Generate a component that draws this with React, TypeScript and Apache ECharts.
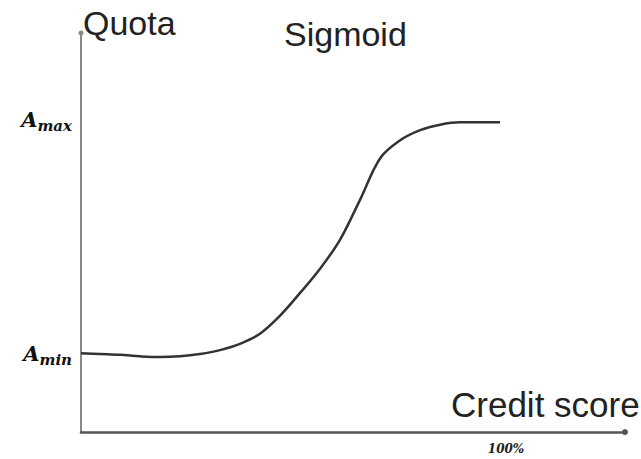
import React, { useEffect, useRef } from "react";
import * as echarts from "echarts";

// Credit score (percent of full scale) and quota values (Amin = 1, Amax = 4)
const creditScore = [0, 4.5, 9.2, 13.9, 18.6, 23.3, 28.0, 32.7, 37.4, 42.1, 46.8, 51.5, 56.2, 60.9, 65.6, 70.4, 75.1, 79.8, 84.5, 89.2, 93.9, 98.6];
const quota = [1.01, 1.0, 0.99, 0.97, 0.96, 0.97, 1.0, 1.05, 1.13, 1.26, 1.49, 1.78, 2.09, 2.46, 2.97, 3.51, 3.74, 3.87, 3.94, 3.97, 3.97, 3.97];
const yTickValues = [1, 4];
const yTickNames = ["min", "max"];
const xTickValues = [100];
const xTickLabels = ["100%"];
const titleLeft = "Quota";
const titleMain = "Sigmoid";
const xName = "Credit score";

export default function App() {
  const ref = useRef<HTMLDivElement>(null);
  useEffect(() => {
    if (!ref.current) return;
    const chart = echarts.init(ref.current, null, { renderer: "svg" });
    const data = creditScore.map((x, i) => [x, quota[i]]);
    chart.setOption({
      animation: false,
      backgroundColor: "#ffffff",
      grid: { left: 81, right: 16, top: 33, bottom: 27 },
      xAxis: {
        type: "value",
        min: 0,
        max: 128,
        interval: 100,
        splitLine: { show: false },
        axisTick: { show: false },
        axisLine: {
          show: true,
          symbol: ["none", "circle"],
          symbolSize: [6, 6],
          lineStyle: { color: "#555", width: 2.5 },
        },
        axisLabel: {
          showMaxLabel: false,
          margin: 11,
          color: "#222",
          fontFamily: "DejaVu Serif",
          fontStyle: "italic",
          fontWeight: "bold",
          fontSize: 12,
          formatter: (v: number) => {
            const i = xTickValues.indexOf(v);
            return i >= 0 ? xTickLabels[i] : "";
          },
        },
      },
      yAxis: {
        type: "value",
        min: 0,
        max: 5.115,
        interval: 1,
        splitLine: { show: false },
        axisTick: { show: false },
        axisLine: {
          show: true,
          symbol: ["none", "circle"],
          symbolSize: [5, 5],
          lineStyle: { color: "#888", width: 2 },
        },
        axisLabel: {
          showMaxLabel: false,
          margin: 9,
          formatter: (v: number) => {
            const i = yTickValues.indexOf(v);
            return i >= 0 ? "{a|A}{b|" + yTickNames[i] + "}" : "";
          },
          rich: {
            a: {
              fontFamily: "DejaVu Serif",
              fontStyle: "italic",
              fontWeight: "bold",
              fontSize: 21,
              color: "#111",
              verticalAlign: "bottom",
            },
            b: {
              fontFamily: "DejaVu Serif",
              fontStyle: "italic",
              fontWeight: "bold",
              fontSize: 15,
              color: "#111",
              verticalAlign: "bottom",
              padding: [0, 0, -3, 0],
            },
          },
        },
      },
      graphic: [
        {
          type: "text",
          left: 83,
          top: 6,
          style: { text: titleLeft, font: "34px 'Liberation Sans'", fill: "#222" },
        },
        {
          type: "text",
          left: 284,
          top: 17,
          style: { text: titleMain, font: "34px 'Liberation Sans'", fill: "#222" },
        },
        {
          type: "text",
          left: 451,
          top: 387,
          style: { text: xName, font: "35px 'Liberation Sans'", fill: "#222" },
        },
      ],
      series: [
        {
          type: "line",
          data,
          smooth: 0.35,
          showSymbol: false,
          lineStyle: { color: "#333", width: 2.5 },
        },
      ],
    });
    return () => chart.dispose();
  }, []);
  return <div ref={ref} style={{ width: 641, height: 459, position: "fixed", left: 0, top: 0 }} />;
}
